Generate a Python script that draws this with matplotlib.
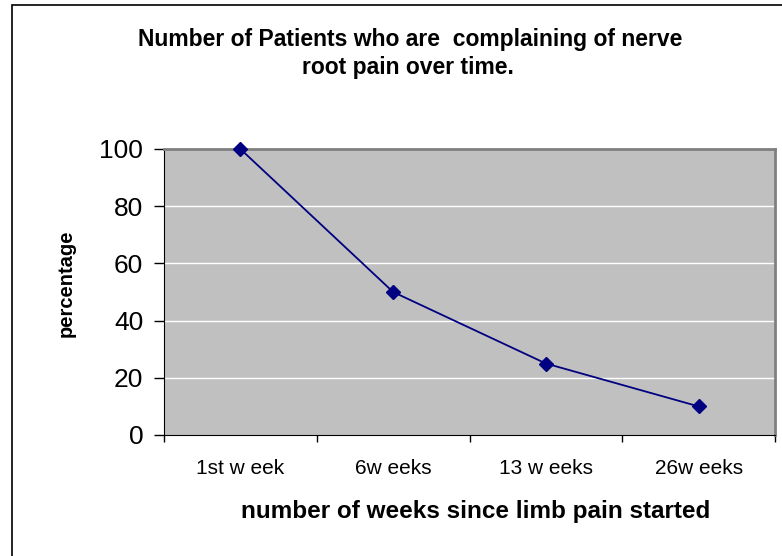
import matplotlib
matplotlib.use("Agg")
import matplotlib.pyplot as plt
from matplotlib.patches import Rectangle

plt.rcParams.update({
    "font.family": ["Liberation Sans", "DejaVu Sans"],
})

weeks = ["1st w eek", "6w eeks", "13 w eeks", "26w eeks"]
percent = [100, 50, 25, 10]
y_ticks = [0, 20, 40, 60, 80, 100]

W, H = 782, 556
fig = plt.figure(figsize=(W / 100, H / 100), dpi=100)

# outer chart frame (only left/top edges visible in the reference)
fig.patches.append(Rectangle((12 / W, -0.1), 1.5, (H - 5) / H + 0.1,
                             transform=fig.transFigure, fill=False,
                             edgecolor="black", lw=1.2))

ax = fig.add_axes([164 / W, (H - 435) / H, (775 - 164) / W, (435 - 149) / H])
ax.set_facecolor("#c0c0c0")

x = list(range(len(weeks)))
ax.plot(x, percent, "-", color="#000080", lw=1.3, marker="D",
        markersize=7, markerfacecolor="#000080", markeredgecolor="#000080",
        clip_on=False, zorder=3)

ax.set_xlim(-0.5, len(weeks) - 0.5)
ax.set_ylim(0, 100)
ax.set_yticks(y_ticks)
ax.set_yticklabels([str(v) for v in y_ticks], fontsize=19)
ax.set_xticks(x)
ax.set_xticklabels(weeks, fontsize=15)
ax.set_xticks([i - 0.5 for i in range(len(weeks) + 1)], minor=True)
ax.tick_params(axis="x", which="major", length=0, pad=17)
ax.tick_params(axis="x", which="minor", length=5, width=1, direction="out")
ax.tick_params(axis="y", length=7, width=1, direction="out", pad=8)

for v in y_ticks[1:-1]:
    ax.axhline(v, color="white", lw=1, zorder=1)

ax.spines["left"].set_color("black")
ax.spines["bottom"].set_color("black")
ax.spines["top"].set_color("#808080")
ax.spines["right"].set_color("#808080")
ax.spines["top"].set_linewidth(2)
ax.spines["right"].set_linewidth(2)

fig.text(410 / W, 1 - 46 / H, "Number of Patients who are  complaining of nerve",
         ha="center", va="baseline", fontsize=16.5, fontweight="bold")
fig.text(408 / W, 1 - 74 / H, "root pain over time.",
         ha="center", va="baseline", fontsize=16.5, fontweight="bold")
fig.text(66 / W, 1 - 283 / H, "percentage", rotation=90,
         ha="center", va="center", fontsize=14.5, fontweight="bold")
fig.text(476 / W, 1 - 518 / H, "number of weeks since limb pain started",
         ha="center", va="baseline", fontsize=17.5, fontweight="bold")

fig.savefig("out.png", dpi=100)
